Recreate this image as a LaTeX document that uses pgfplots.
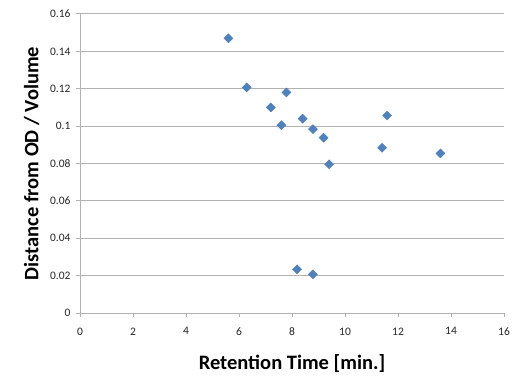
\documentclass[border=0pt]{standalone}
\usepackage{pgfplots}
\pgfplotsset{compat=1.18}
\usepackage{fontspec}
\setmainfont{Carlito}
\definecolor{mk}{RGB}{79,129,189}
\definecolor{gl}{RGB}{178,178,178}
\begin{document}
\begin{tikzpicture}
\begin{axis}[
  at={(0,0)}, anchor=origin,
  scale only axis, width=424pt, height=299pt,
  xmin=0, xmax=16, ymin=0, ymax=0.16,
  xtick={0,2,...,16},
  ytick={0,0.02,...,0.16},
  yticklabels={0,0.02,0.04,0.06,0.08,0.1,0.12,0.14,0.16},
  xticklabels={0,2,4,6,8,10,12,14,16},
  axis x line*=bottom, axis y line*=left,
  axis line style={gl, line width=1pt, -},
  ymajorgrids, grid style={gl, line width=1pt},
  major tick length=4pt,
  xtick style={gl, line width=1pt},
  ytick style={gl, line width=1pt},
  x tick label style={font=\fontsize{11.5}{13}\selectfont, text=black!85, yshift=-7pt},
  y tick label style={font=\fontsize{11.5}{13}\selectfont, text=black!85, xshift=-2pt},
  tick align=outside,
  xlabel={\textbf{Retention Time [min.]}},
  ylabel={\textbf{Distance from OD / Volume}},
  label style={font=\fontsize{20.5}{24}\selectfont},
  xlabel style={yshift=-12pt},
  ylabel style={yshift=4pt},
  clip=false,
]
\addplot[only marks, mark=square*, mark size=3.2pt, mark options={draw=mk, fill=mk, rotate=45}] coordinates {
(5.60,0.1470)
(6.29,0.1207)
(7.20,0.1100)
(7.79,0.1180)
(7.60,0.1005)
(8.40,0.1040)
(8.79,0.0984)
(9.19,0.0938)
(9.40,0.0796)
(11.40,0.0884)
(11.59,0.1057)
(13.60,0.0854)
(8.19,0.0234)
(8.79,0.0207)
};
\end{axis}
\pgfresetboundingbox
\path (-80pt,-73pt) rectangle (446pt,313pt);
\end{tikzpicture}
\end{document}
